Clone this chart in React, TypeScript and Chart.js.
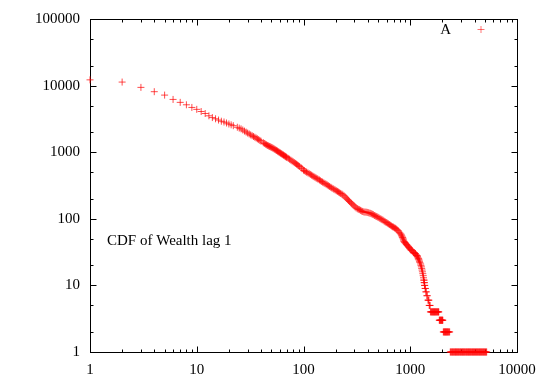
import { useEffect, useRef } from 'react';
import { Chart, registerables } from 'chart.js';

Chart.register(...registerables);

// wealth value (x) and number of agents with at least that wealth (y)
const wealth = [
  1, 2, 3, 4, 5, 6, 7, 8, 9, 10, 11, 12, 13, 14, 15, 16, 17, 18, 19, 20,
  21, 22, 24, 26, 28, 30, 32, 34, 36, 38, 40, 43, 46, 49, 52, 55, 58, 61, 64, 67,
  70, 74, 78, 82, 86, 90, 95, 100, 105, 110, 116, 122, 128, 134, 141, 148, 155, 163, 171, 180,
  189, 198, 208, 218, 229, 240, 252, 264, 277, 290, 304, 319, 334, 350, 367, 385, 403, 422, 442, 463,
  485, 508, 532, 557, 583, 610, 638, 667, 697, 727, 757, 787, 817, 835, 850, 865, 880, 900, 925, 950,
  975, 1000, 1030, 1060, 1090, 1120, 1150, 1170, 1190, 1210, 1230, 1250, 1260, 1271, 1280, 1291, 1300, 1311, 1322, 1331,
  1340, 1346, 1350, 1357, 1360, 1368, 1378, 1388, 1400, 1412, 1430, 1444, 1465, 1480, 1495, 1505, 1520, 1535,
  1545, 1580, 1610, 1640, 1670, 1700, 1730, 1765, 1800, 1840,
  1870, 1900, 1930, 1960, 1990, 2020,
  2040, 2080, 2120, 2160, 2200, 2240, 2290, 2340,
  2370, 2420, 2480, 2530, 2590, 2650, 2700, 2760, 2820, 2880, 2950, 3010, 3080, 3140, 3210, 3280, 3360, 3430, 3510,
  3580, 3660, 3740, 3830, 3910, 4000, 4090, 4180, 4270, 4370, 4460, 4560, 4660, 4770, 4870, 4980, 5090, 5200,
];
const count = [
  12200, 11300, 9400, 8100, 7200, 6200, 5600, 5150, 4700, 4400, 4080, 3810, 3520, 3310, 3175, 3040, 2920, 2840, 2745, 2650,
  2575, 2500, 2370, 2240, 2075, 1937, 1820, 1722, 1633, 1545, 1462, 1351, 1265, 1203, 1144, 1080, 1019, 966, 918, 873,
  832, 785, 740, 698, 661, 627, 583, 538, 512, 489, 464, 441, 420, 402, 383, 363, 347, 330, 314, 298,
  284, 271, 258, 246, 235, 221, 204, 189, 175, 163, 151, 142, 137, 131, 127, 126, 124, 121, 117, 112,
  108, 104, 99, 95, 90, 86, 82, 78, 75, 72, 68, 63, 59, 55, 52, 48, 45, 43, 41, 39,
  37, 35, 34, 32, 31, 30, 28, 27, 25, 24, 22, 21, 20, 19, 18, 17, 16, 15, 14, 13,
  12, 12, 11, 11, 10, 10, 9, 9, 8, 8, 7, 7, 6, 6, 6, 5, 5, 5,
  4, 4, 4, 4, 4, 4, 4, 4, 4, 4,
  3, 3, 3, 3, 3, 3,
  2, 2, 2, 2, 2, 2, 2, 2,
  1, 1, 1, 1, 1, 1, 1, 1, 1, 1, 1, 1, 1, 1, 1, 1, 1, 1, 1,
  1, 1, 1, 1, 1, 1, 1, 1, 1, 1, 1, 1, 1, 1, 1, 1, 1, 1,
];

const wealthDense = [
  25, 27, 29, 31, 33, 35, 37, 39, 42, 44, 45, 47, 48, 50, 51, 53, 54, 56, 57, 59,
  60, 62, 63, 65, 66, 68, 69, 72, 76, 80, 84, 88, 92, 97, 102, 107, 113, 119, 125, 131,
  137, 144, 151, 159, 167, 175, 184, 193, 203, 213, 223, 234, 246, 258, 270, 283, 297, 311, 326, 342,
  358, 376, 394, 412, 432, 452, 474, 496, 520, 544, 570, 596, 624, 652, 682, 712, 742, 772, 802, 826,
  842, 857, 872, 890, 912, 937, 962, 987, 1015, 1045, 1075, 1105, 1135, 1160, 1180, 1200, 1220,
  1560, 1595, 1625, 1655, 1685, 1715, 1748, 1782, 1820, 1850,
  1885, 1915, 1945, 1975, 2005,
  2060, 2100, 2140, 2180, 2220, 2265, 2315,
  2395, 2450, 2505, 2560, 2620, 2675, 2730, 2790, 2850, 2915, 2980, 3045, 3110, 3175, 3245, 3320, 3395, 3470,
  3545, 3620, 3700, 3785, 3870, 3955, 4045, 4135, 4225, 4320, 4415, 4510, 4610, 4715, 4820, 4925, 5035, 5145,
];
const countDense = [
  2300, 2155, 2005, 1878, 1770, 1677, 1588, 1503, 1390, 1320, 1292, 1243, 1222, 1183, 1163, 1122, 1101, 1060, 1039, 1001,
  983, 950, 934, 903, 888, 859, 845, 808, 762, 719, 679, 644, 610, 565, 527, 501, 476, 452, 430, 411,
  392, 373, 355, 338, 322, 306, 291, 277, 264, 252, 240, 228, 212, 196, 182, 169, 157, 146, 139, 134,
  129, 126, 125, 122, 119, 115, 110, 106, 101, 97, 92, 88, 84, 80, 76, 73, 70, 66, 61, 57,
  53, 50, 46, 44, 42, 40, 38, 36, 34, 33, 31, 30, 29, 28, 26, 25, 23,
  4, 4, 4, 4, 4, 4, 4, 4, 4, 4,
  3, 3, 3, 3, 3,
  2, 2, 2, 2, 2, 2, 2,
  1, 1, 1, 1, 1, 1, 1, 1, 1, 1, 1, 1, 1, 1, 1, 1, 1, 1,
  1, 1, 1, 1, 1, 1, 1, 1, 1, 1, 1, 1, 1, 1, 1, 1, 1, 1,
];

const xTickValues = [1, 10, 100, 1000, 10000];
const xTickLabels = ['1', '10', '100', '1000', '10000'];
const yTickValues = [1, 10, 100, 1000, 10000, 100000];
const yTickLabels = ['1', '10', '100', '1000', '10000', '100000'];
const xMinorFactors = [2, 3, 4, 5, 6, 7, 8, 9];
const yMinorFactors = [2, 5];
const seriesLabel = 'A';
const noteText = 'CDF of Wealth lag 1';

const FONT = '15px "Liberation Serif", "Times New Roman", serif';
const POINT_COLOR = 'rgba(255,0,0,0.7)';

const framePlugin = {
  id: 'gnuFrame',
  beforeDatasetsDraw(chart: any) {
    const { ctx, chartArea } = chart;
    const xs = chart.scales.x;
    const ys = chart.scales.y;
    const l = Math.round(chartArea.left) + 0.5;
    const r = Math.round(chartArea.right) + 0.5;
    const t = Math.round(chartArea.top) + 0.5;
    const b = Math.round(chartArea.bottom) + 0.5;
    ctx.save();
    ctx.strokeStyle = '#000';
    ctx.lineWidth = 1;
    ctx.beginPath();
    const majorLen = 6;
    const minorLen = 3;
    for (let i = 0; i < xTickValues.length; i++) {
      const d = xTickValues[i];
      const px = Math.round(xs.getPixelForValue(d)) + 0.5;
      ctx.moveTo(px, b); ctx.lineTo(px, b - majorLen);
      ctx.moveTo(px, t); ctx.lineTo(px, t + majorLen);
      if (i < xTickValues.length - 1) {
        for (const f of xMinorFactors) {
          const mx = Math.round(xs.getPixelForValue(d * f)) + 0.5;
          ctx.moveTo(mx, b); ctx.lineTo(mx, b - minorLen);
          ctx.moveTo(mx, t); ctx.lineTo(mx, t + minorLen);
        }
      }
    }
    for (let i = 0; i < yTickValues.length; i++) {
      const d = yTickValues[i];
      const py = Math.round(ys.getPixelForValue(d)) + 0.5;
      ctx.moveTo(l, py); ctx.lineTo(l + majorLen, py);
      ctx.moveTo(r, py); ctx.lineTo(r - majorLen, py);
      if (i < yTickValues.length - 1) {
        for (const f of yMinorFactors) {
          const my = Math.round(ys.getPixelForValue(d * f)) + 0.5;
          ctx.moveTo(l, my); ctx.lineTo(l + minorLen, my);
          ctx.moveTo(r, my); ctx.lineTo(r - minorLen, my);
        }
      }
    }
    ctx.stroke();
    ctx.strokeRect(l, t, r - l, b - t);
    ctx.restore();
  },
  afterDraw(chart: any) {
    const { ctx } = chart;
    ctx.save();
    ctx.font = FONT;
    ctx.fillStyle = '#000';
    ctx.textBaseline = 'alphabetic';
    ctx.textAlign = 'right';
    ctx.fillText(chart.data.datasets[0].label, 451, 34);
    ctx.textAlign = 'left';
    ctx.fillText(noteText, 107, 245);
    ctx.strokeStyle = 'rgba(255,0,0,0.55)';
    ctx.lineWidth = 1;
    ctx.beginPath();
    ctx.moveTo(477.5, 29.5); ctx.lineTo(484.5, 29.5);
    ctx.moveTo(481, 26); ctx.lineTo(481, 33);
    ctx.stroke();
    ctx.restore();
  },
};

export default function App() {
  const canvasRef = useRef<HTMLCanvasElement | null>(null);

  useEffect(() => {
    document.body.style.margin = '0';
    const canvas = canvasRef.current;
    if (!canvas) return;
    const points = wealth
      .map((w, i) => ({ x: w, y: count[i] }))
      .concat(wealthDense.map((w, i) => ({ x: w, y: countDense[i] })));
    const chart = new Chart(canvas, {
      type: 'scatter',
      data: {
        datasets: [
          {
            label: seriesLabel,
            data: points,
            pointStyle: 'cross',
            pointRadius: 3.5,
            pointHoverRadius: 3.5,
            borderWidth: 1,
            borderColor: POINT_COLOR,
            backgroundColor: POINT_COLOR,
            clip: false,
          } as any,
        ],
      },
      options: {
        responsive: false,
        animation: false,
        devicePixelRatio: 1,
        layout: { padding: { top: 19, right: 28, left: 0, bottom: 0 } },
        plugins: {
          legend: { display: false },
          tooltip: { enabled: false },
        },
        events: [],
        scales: {
          x: {
            type: 'logarithmic',
            min: 1,
            max: 10000,
            grid: { display: false, drawTicks: false },
            border: { display: false },
            ticks: {
              autoSkip: false,
              maxRotation: 0,
              padding: 9,
              color: '#000',
              font: { family: '"Liberation Serif", "Times New Roman", serif', size: 15 },
              callback: (v: any) => {
                const i = xTickValues.indexOf(Number(v));
                return i >= 0 ? xTickLabels[i] : '';
              },
            },
            afterBuildTicks: (scale: any) => {
              scale.ticks = xTickValues.map((v) => ({ value: v }));
            },
            afterFit: (scale: any) => {
              scale.height = 30;
            },
          },
          y: {
            type: 'logarithmic',
            min: 1,
            max: 100000,
            grid: { display: false, drawTicks: false },
            border: { display: false },
            ticks: {
              autoSkip: false,
              padding: 10,
              color: '#000',
              font: { family: '"Liberation Serif", "Times New Roman", serif', size: 15 },
              callback: (v: any) => {
                const i = yTickValues.indexOf(Number(v));
                return i >= 0 ? yTickLabels[i] : '';
              },
            },
            afterBuildTicks: (scale: any) => {
              scale.ticks = yTickValues.map((v) => ({ value: v }));
            },
            afterFit: (scale: any) => {
              scale.width = 90;
            },
          },
        },
      } as any,
      plugins: [framePlugin],
    });
    return () => chart.destroy();
  }, []);

  return (
    <div style={{ width: 545, height: 382, background: '#fff' }}>
      <canvas ref={canvasRef} width={545} height={382} style={{ display: 'block' }} />
    </div>
  );
}
